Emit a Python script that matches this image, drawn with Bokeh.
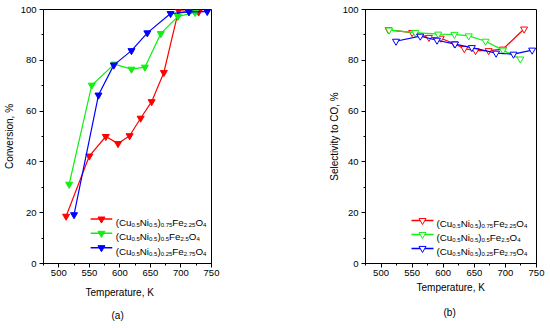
from bokeh.plotting import figure
from bokeh.models import Range1d, Title, SingleIntervalTicker
from bokeh.layouts import row
from bokeh.embed import file_html
from bokeh.resources import INLINE

# ---- data ----
# legend labels as (text, is_subscript) segments
label_red = [("(Cu", 0), ("0.5", 1), ("Ni", 0), ("0.5", 1), (")", 0), ("0.75", 1), ("Fe", 0), ("2.25", 1), ("O", 0), ("4", 1)]
label_green = [("(Cu", 0), ("0.5", 1), ("Ni", 0), ("0.5", 1), (")", 0), ("0.5", 1), ("Fe", 0), ("2.5", 1), ("O", 0), ("4", 1)]
label_blue = [("(Cu", 0), ("0.5", 1), ("Ni", 0), ("0.5", 1), (")", 0), ("0.25", 1), ("Fe", 0), ("2.75", 1), ("O", 0), ("4", 1)]
colors = ["#ff0000", "#11ee11", "#0000ff"]

conv_red_T = [512, 550, 577, 597, 616, 634, 652, 672, 696, 713, 729]
conv_red = [18.6, 42.3, 50.0, 47.2, 50.3, 57.2, 63.7, 75.2, 99.6, 99.2, 99.0]
conv_green_T = [517, 554, 591, 619, 641, 667, 695, 723]
conv_green = [31.2, 70.2, 78.5, 76.5, 77.3, 90.5, 97.3, 98.8]
conv_blue_T = [525, 565, 590, 619, 645, 683, 713, 743]
conv_blue = [19.2, 66.3, 78.1, 83.8, 90.8, 98.4, 99.1, 99.2]

sel_red_T = [512, 550, 577, 596, 618, 634, 652, 673, 696, 730]
sel_red = [92.0, 90.9, 89.0, 88.7, 86.5, 84.6, 83.8, 83.8, 84.4, 92.3]
sel_green_T = [513, 555, 592, 618, 641, 668, 696, 724]
sel_green = [91.9, 90.9, 90.3, 90.2, 89.6, 87.5, 84.0, 80.5]
sel_blue_T = [524, 563, 590, 619, 646, 685, 713, 743]
sel_blue = [87.5, 89.5, 87.9, 86.4, 85.0, 82.8, 82.4, 84.0]

x_label = "Temperature, K"
FONT = "Liberation Sans"
X0, X1, Y0, Y1 = 475, 750, 0, 100

# Arial-like advance widths (em)
W = {"(": .333, ")": .333, "C": .722, "u": .556, "N": .722, "i": .222, "F": .611,
     "e": .556, "O": .778, ".": .278}
for d in "0123456789":
    W[d] = .556


def make_fig(bl, br, bt, bb, fw, fh, ystandoff, ylab, ylab_standoff):
    p = figure(width=275, height=328, x_range=Range1d(X0, X1), y_range=Range1d(Y0, Y1),
               output_backend="svg", toolbar_location=None,
               min_border_left=bl, min_border_right=br, min_border_top=bt, min_border_bottom=bb)
    p.grid.visible = False
    p.outline_line_color = "black"
    p.outline_line_width = 1
    p.xaxis.ticker = SingleIntervalTicker(interval=50, num_minor_ticks=2)
    p.yaxis.ticker = SingleIntervalTicker(interval=20, num_minor_ticks=2)
    for ax in (p.xaxis, p.yaxis):
        ax.major_tick_in = 0
        ax.major_tick_out = 4
        ax.minor_tick_in = 0
        ax.minor_tick_out = 2
        ax.axis_line_color = "black"
        ax.major_tick_line_color = "black"
        ax.minor_tick_line_color = "black"
        ax.major_label_text_font = FONT
        ax.major_label_text_font_size = "9.5px"
        ax.major_label_text_color = "black"
    p.xaxis.major_label_standoff = 2
    p.yaxis.major_label_standoff = ystandoff
    p.yaxis.axis_label = ylab
    p.yaxis.axis_label_standoff = ylab_standoff
    p.yaxis.axis_label_text_font = FONT
    p.yaxis.axis_label_text_font_size = "10px"
    p.yaxis.axis_label_text_font_style = "normal"
    p.yaxis.axis_label_text_color = "black"
    p._geom = (bl, bt, fw, fh)
    return p


def px2data(p, sx, sy):
    bl, bt, fw, fh = p._geom
    return X0 + (sx - bl) * (X1 - X0) / fw, Y1 - (sy - bt) * (Y1 - Y0) / fh


def add_title(p, text, offset, standoff, size="10px"):
    p.add_layout(Title(text=text, align="left", offset=offset, standoff=standoff,
                       text_font=FONT, text_font_size=size, text_font_style="normal",
                       text_color="black"), "below")


def legend_entry(p, segs, color, sx, sy, filled):
    # glyph line + marker
    xa, ya = px2data(p, sx, sy)
    xb, _ = px2data(p, sx + 22, sy)
    xm, _ = px2data(p, sx + 11, sy)
    p.line([xa, xb], [ya, ya], line_color=color, line_width=1.5)
    p.scatter([xm], [ya], marker="inverted_triangle", size=7,
              fill_color=color if filled else "white", line_color=color)
    fn, fs = 9.8, 6.0
    texts, xs, ys, offs, yoffs, sizes = [], [], [], [], [], []
    cur = 25.0
    for t, sub in segs:
        size = fs if sub else fn
        texts.append(t)
        xs.append(xa)
        ys.append(ya)
        offs.append(cur)
        yoffs.append(6.0 if sub else 3.5)
        sizes.append(f"{size}px")
        cur += sum(W[c] for c in t) * size
    p.text(x=xs, y=ys, text=texts, x_offset=offs, y_offset=yoffs, text_font_size=sizes,
           text_font={"value": FONT}, text_baseline="alphabetic", text_align="left",
           text_color="black")


# ---- (a) conversion ----
p1 = make_fig(40, 64, 9, 62, 171, 257, 3, "Conversion, %", 3)
for T, v, c in zip([conv_red_T, conv_green_T, conv_blue_T], [conv_red, conv_green, conv_blue], colors):
    p1.line(T, v, line_color=c, line_width=1.2)
    p1.scatter(T, v, marker="inverted_triangle", size=7, fill_color=c, line_color=c)
for i, (segs, c) in enumerate(zip([label_red, label_green, label_blue], colors)):
    legend_entry(p1, segs, c, 88, 221 + 14.5 * i, True)
add_title(p1, x_label, 42, 12)
add_title(p1, "(a)", 68, 8)

# ---- (b) selectivity ----
p2 = make_fig(90, 14, 9, 61, 171, 258, 3, "Selectivity to CO, %", 0)
for T, v, c in zip([sel_red_T, sel_green_T, sel_blue_T], [sel_red, sel_green, sel_blue], colors):
    p2.line(T, v, line_color=c, line_width=1.2)
    p2.scatter(T, v, marker="inverted_triangle", size=7, fill_color="white", line_color=c, line_width=1)
for i, (segs, c) in enumerate(zip([label_red, label_green, label_blue], colors)):
    legend_entry(p2, segs, c, 136, 223.3 + 14.2 * i, False)
add_title(p2, x_label, 51, 3)
add_title(p2, "(b)", 78, 21)

layout = row(p1, p2)
open("out.html", "w").write(file_html(layout, INLINE))
